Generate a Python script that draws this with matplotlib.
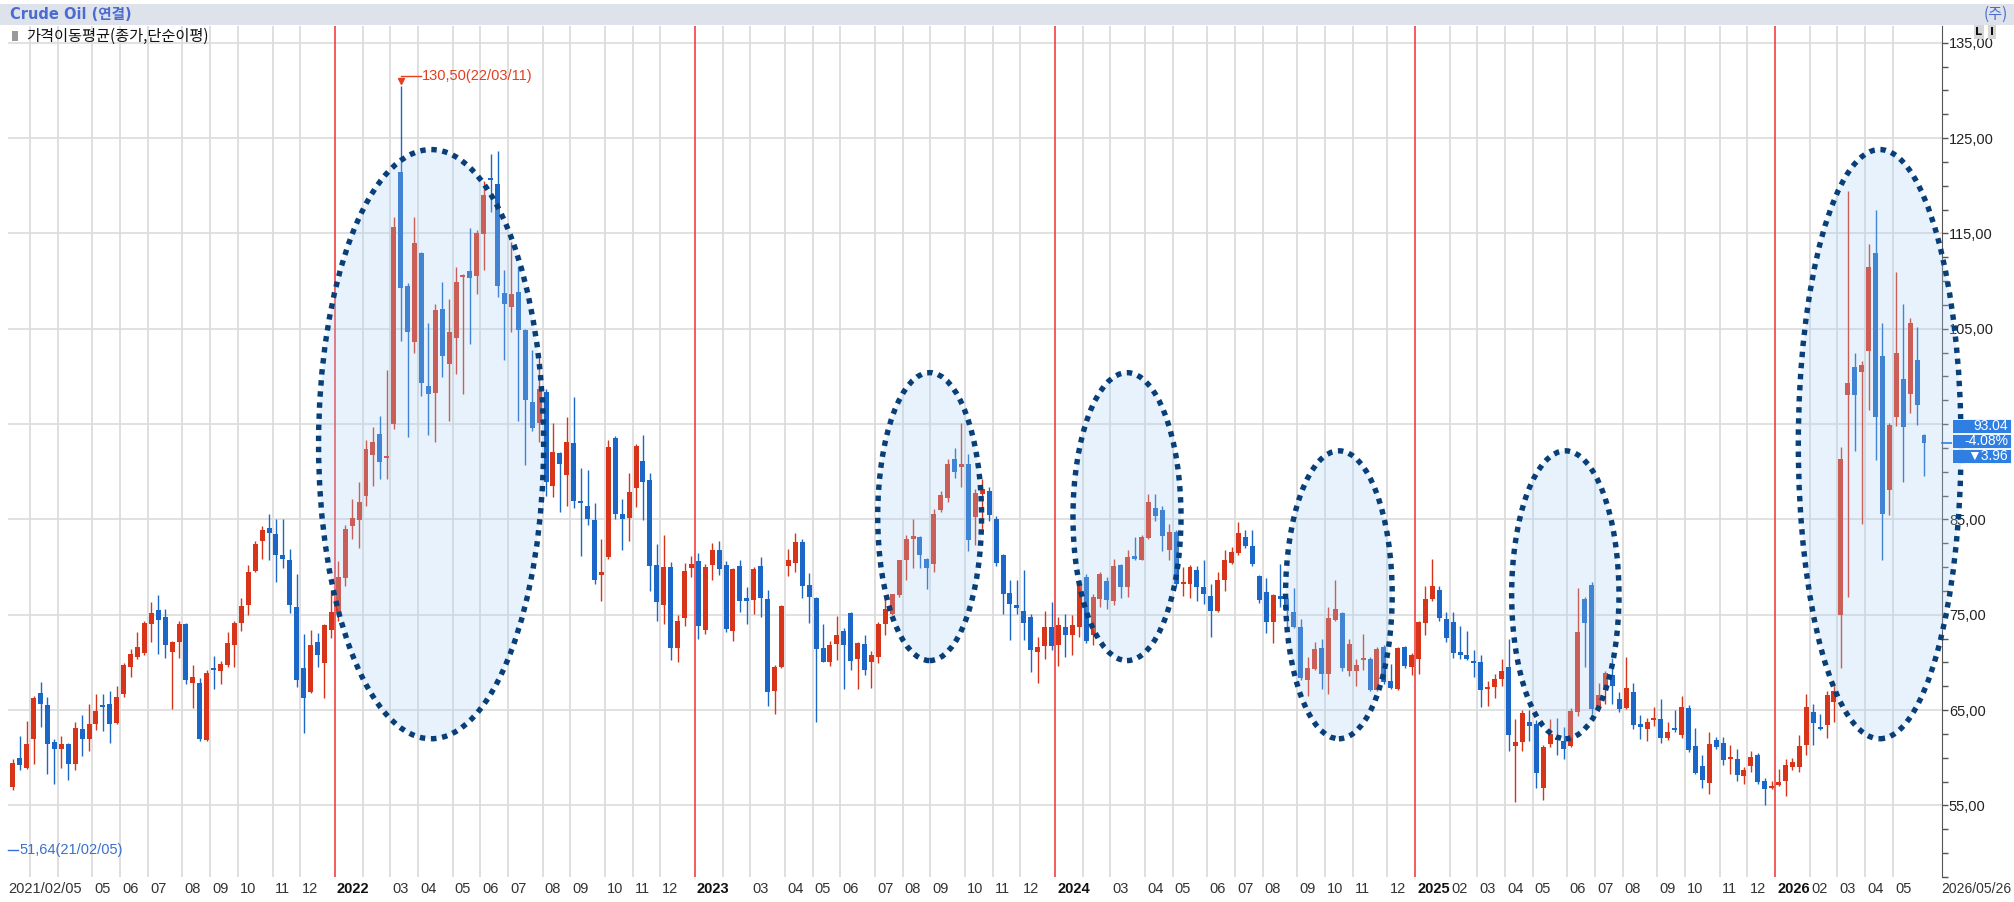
import matplotlib
matplotlib.use("Agg")
import matplotlib.pyplot as plt
from matplotlib.patches import Ellipse, Rectangle
import numpy as np
import pandas as pd

W, H = 2014, 902
up_col = "#d8341a"
down_col = "#1a67c7"
grid_col = "#dcdcdc"
num_font = ["Liberation Sans Narrow", "Liberation Sans", "DejaVu Sans"]
kr_font = ["Noto Sans CJK KR", "DejaVu Sans"]

# weekly candles, Friday dates; last one is the running week
dates = list(pd.date_range("2021-02-05", periods=277, freq="7D")) + [pd.Timestamp("2026-05-26")]

opens = [
    52.2, 56.9, 60.0, 58.9, 62.0, 66.8, 65.5, 61.7, 60.9, 61.5,
    59.3, 63.0, 62.0, 63.5, 65.5, 65.6, 63.7, 66.7, 69.5, 70.6,
    71.0, 74.0, 75.5, 74.8, 71.1, 72.2, 74.0, 67.8, 67.8, 61.9,
    69.4, 69.1, 69.7, 71.8, 74.1, 76.0, 79.6, 82.7, 84.1, 83.5,
    81.3, 80.8, 75.8, 69.4, 66.9, 72.2, 69.9, 73.4, 75.3, 78.9,
    84.3, 84.9, 87.5, 91.8, 94.0, 91.4, 95.0, 121.4, 109.5, 103.6,
    113.0, 99.0, 98.3, 107.1, 101.3, 104.0, 110.4, 111.1, 110.5, 114.9,
    120.8, 120.2, 108.8, 107.3, 108.9, 104.9, 97.3, 95.1, 98.4, 88.5,
    92.0, 89.7, 93.0, 86.9, 86.4, 84.9, 79.2, 81.1, 93.5, 85.6,
    85.2, 88.3, 91.1, 89.1, 80.2, 76.0, 80.0, 71.5, 74.7, 79.9,
    80.6, 73.4, 80.2, 81.8, 80.2, 73.3, 80.1, 76.8, 76.6, 80.1,
    76.7, 67.0, 69.5, 80.1, 80.4, 82.6, 78.1, 76.8, 71.5, 70.1,
    71.9, 73.3, 75.2, 70.4, 71.9, 70.0, 70.6, 74.0, 75.1, 77.1,
    80.7, 82.9, 83.2, 80.9, 80.3, 86.0, 87.3, 91.3, 90.5, 90.8,
    85.3, 87.7, 88.0, 85.0, 81.3, 77.3, 76.0, 75.4, 74.8, 71.1,
    71.7, 73.7, 71.8, 73.7, 72.9, 73.7, 79.0, 72.9, 76.7, 78.5,
    76.5, 80.2, 77.9, 81.1, 80.8, 83.1, 86.2, 86.0, 81.8, 83.7,
    78.2, 78.2, 79.7, 77.9, 77.0, 75.4, 78.6, 80.4, 81.5, 83.2,
    82.2, 79.1, 77.4, 74.2, 77.0, 76.7, 75.3, 73.7, 68.2, 69.3,
    71.5, 68.8, 74.5, 75.2, 69.1, 69.1, 70.3, 70.4, 67.1, 71.6,
    68.1, 67.2, 71.6, 69.5, 70.4, 74.1, 76.7, 77.6, 74.6, 74.2,
    71.1, 70.8, 70.0, 70.0, 67.2, 67.4, 68.3, 69.5, 61.2, 61.7,
    63.8, 63.5, 56.8, 61.5, 62.1, 61.8, 61.2, 64.8, 76.7, 78.1,
    65.3, 67.1, 68.7, 66.2, 65.2, 66.9, 63.5, 63.0, 64.0, 64.1,
    62.1, 63.1, 62.4, 65.2, 61.2, 59.1, 57.4, 61.9, 61.6, 59.9,
    59.9, 58.1, 59.1, 60.3, 57.6, 56.8, 57.2, 57.6, 59.0, 59.0,
    61.3, 64.8, 63.1, 63.4, 65.9, 75.0, 98.1, 101.0, 100.5, 102.7,
    112.9, 102.1, 88.1, 95.7, 99.7, 98.2, 101.7, 93.9,
]
highs = [
    57.5, 59.9, 62.3, 63.9, 66.5, 68.0, 66.4, 62.0, 62.3, 61.6,
    63.8, 64.5, 65.6, 66.7, 66.7, 67.0, 67.5, 69.9, 71.4, 73.2,
    74.3, 76.3, 77.1, 75.6, 72.3, 74.3, 74.1, 69.7, 68.4, 69.2,
    70.7, 70.2, 73.2, 74.3, 76.8, 80.2, 82.7, 84.3, 85.6, 85.0,
    85.0, 81.9, 79.3, 73.0, 73.4, 73.1, 74.0, 77.5, 80.6, 84.4,
    87.2, 88.9, 93.3, 94.7, 95.9, 100.7, 116.7, 130.5, 109.8, 116.7,
    113.1, 105.6, 107.6, 109.9, 108.1, 111.5, 110.8, 115.6, 115.4, 120.5,
    123.3, 123.7, 111.2, 114.1, 111.5, 105.0, 102.8, 102.1, 98.7, 95.1,
    92.1, 95.8, 97.8, 90.4, 90.2, 86.7, 83.0, 93.3, 93.8, 87.2,
    89.9, 92.9, 93.9, 89.9, 82.4, 83.4, 80.5, 75.0, 80.4, 81.2,
    81.5, 80.3, 82.5, 82.7, 80.6, 79.9, 80.7, 77.9, 80.0, 81.1,
    77.6, 69.7, 76.0, 81.9, 83.6, 82.9, 79.4, 76.9, 74.0, 72.3,
    74.9, 73.6, 75.3, 72.1, 72.9, 71.2, 74.2, 77.0, 77.2, 80.8,
    83.4, 85.0, 83.3, 81.0, 86.1, 88.0, 91.3, 92.5, 95.1, 91.9,
    88.2, 89.2, 88.4, 85.4, 81.4, 78.7, 78.7, 79.7, 75.1, 72.7,
    75.4, 76.3, 74.8, 75.1, 75.0, 78.6, 79.3, 77.2, 79.5, 79.0,
    80.9, 80.3, 81.8, 83.2, 83.4, 87.7, 87.7, 86.4, 84.5, 83.9,
    80.0, 80.2, 80.1, 80.7, 78.2, 79.5, 81.8, 82.1, 84.7, 83.9,
    83.9, 79.2, 78.9, 77.2, 80.3, 77.0, 77.8, 74.6, 70.6, 72.2,
    72.5, 75.8, 78.7, 75.3, 72.5, 70.4, 73.0, 70.6, 71.6, 71.8,
    69.8, 71.6, 71.7, 71.0, 74.4, 78.0, 80.9, 78.0, 75.3, 75.3,
    73.8, 73.3, 71.3, 70.8, 68.1, 68.8, 70.4, 72.5, 64.1, 65.0,
    65.0, 64.0, 61.3, 64.1, 64.2, 63.2, 65.2, 77.8, 76.9, 78.4,
    67.9, 69.1, 70.5, 66.9, 70.6, 67.9, 64.5, 64.2, 65.3, 66.2,
    63.8, 65.0, 66.5, 65.5, 63.1, 60.3, 62.7, 62.2, 62.2, 61.3,
    60.9, 59.0, 60.7, 60.5, 57.9, 57.6, 58.8, 59.9, 60.0, 62.4,
    66.7, 65.6, 64.6, 67.0, 67.7, 92.6, 119.5, 102.5, 101.6, 113.9,
    117.5, 105.6, 95.1, 111.0, 107.6, 106.1, 105.2, 94.0,
]
lows = [
    51.64, 56.6, 58.7, 58.8, 59.3, 63.2, 58.3, 57.3, 58.9, 57.7,
    58.7, 60.2, 60.7, 62.9, 62.8, 61.6, 63.5, 66.4, 68.5, 70.4,
    70.8, 72.1, 70.9, 70.5, 65.1, 70.5, 67.7, 65.2, 61.8, 61.8,
    67.2, 67.7, 69.5, 69.5, 73.3, 75.0, 79.5, 80.9, 80.8, 78.4,
    79.9, 75.2, 67.4, 62.6, 66.8, 69.5, 66.3, 72.6, 74.3, 78.0,
    82.9, 82.0, 86.4, 88.5, 89.2, 89.2, 94.5, 103.7, 93.7, 102.5,
    97.9, 93.9, 93.1, 99.9, 95.3, 100.3, 98.2, 103.4, 108.7, 111.2,
    117.2, 108.3, 101.7, 104.7, 95.3, 90.7, 94.3, 93.1, 87.5, 87.4,
    85.8, 86.4, 86.2, 81.2, 84.4, 78.2, 76.4, 80.9, 85.1, 81.8,
    82.7, 86.3, 84.9, 77.5, 74.4, 74.0, 70.3, 70.1, 73.8, 79.0,
    72.5, 73.0, 78.7, 79.2, 73.2, 72.3, 75.3, 74.0, 75.1, 74.8,
    65.4, 64.6, 69.4, 79.1, 79.5, 76.8, 74.1, 63.8, 70.0, 69.6,
    70.3, 67.2, 69.2, 67.2, 68.7, 67.3, 69.9, 72.9, 75.0, 76.9,
    78.7, 79.9, 79.9, 77.7, 79.5, 85.8, 86.8, 89.3, 88.4, 81.7,
    82.3, 84.0, 84.8, 80.1, 75.1, 72.4, 75.1, 72.4, 69.0, 67.9,
    70.4, 71.3, 69.6, 70.6, 70.8, 72.7, 72.0, 71.8, 75.8, 75.6,
    76.0, 76.8, 76.9, 80.7, 80.7, 83.0, 84.8, 81.7, 80.8, 78.0,
    77.0, 76.8, 76.4, 76.1, 72.7, 75.3, 77.5, 80.3, 81.3, 82.0,
    80.1, 76.2, 73.1, 72.0, 75.8, 73.5, 73.6, 68.2, 66.5, 69.2,
    67.2, 66.7, 74.4, 69.1, 68.6, 67.5, 69.2, 67.0, 67.0, 67.7,
    67.2, 67.1, 69.4, 68.7, 68.8, 72.9, 76.4, 74.3, 72.1, 70.5,
    70.4, 70.3, 68.5, 65.3, 65.4, 66.3, 67.5, 60.7, 55.4, 60.7,
    61.8, 56.8, 55.6, 61.1, 60.3, 59.9, 61.1, 64.4, 69.5, 64.6,
    65.1, 65.6, 65.6, 64.8, 65.1, 63.0, 62.0, 61.8, 63.3, 61.6,
    61.9, 62.7, 62.1, 60.6, 58.3, 56.8, 56.2, 60.9, 59.2, 58.3,
    57.6, 57.3, 58.5, 57.3, 55.1, 56.7, 57.0, 56.0, 58.7, 58.5,
    60.3, 61.3, 62.9, 62.1, 63.8, 69.4, 76.9, 92.2, 84.5, 96.5,
    91.2, 80.7, 85.5, 94.8, 88.9, 96.2, 94.9, 89.6,
]
closes = [
    56.9, 59.5, 59.2, 61.5, 66.3, 65.6, 61.4, 60.9, 61.4, 59.3,
    63.1, 62.0, 63.6, 64.9, 65.3, 63.5, 66.4, 69.7, 70.9, 71.6,
    74.1, 75.2, 74.5, 71.8, 72.2, 74.0, 68.2, 68.5, 62.0, 68.9,
    69.2, 69.8, 72.0, 74.1, 75.9, 79.5, 82.4, 83.9, 83.6, 81.3,
    80.9, 76.0, 68.2, 66.3, 71.8, 70.8, 73.9, 75.3, 79.0, 84.0,
    85.2, 86.8, 92.4, 93.1, 91.0, 91.7, 115.7, 109.3, 104.7, 114.0,
    99.3, 98.2, 107.0, 102.1, 104.7, 109.9, 110.6, 110.3, 115.1, 119.0,
    120.6, 109.5, 107.6, 108.6, 104.9, 97.5, 94.6, 98.7, 88.9, 92.1,
    90.8, 93.1, 86.9, 86.7, 85.0, 78.7, 79.5, 92.6, 85.6, 85.0,
    87.9, 92.7, 88.9, 80.1, 76.3, 80.0, 71.5, 74.4, 79.6, 80.3,
    73.8, 80.0, 81.8, 79.8, 73.5, 79.8, 76.4, 76.4, 79.8, 76.8,
    66.9, 69.5, 75.9, 80.8, 82.6, 78.0, 76.9, 71.4, 70.1, 71.8,
    72.9, 71.8, 70.2, 72.0, 69.2, 70.8, 74.0, 75.6, 77.2, 80.7,
    82.9, 83.3, 81.3, 79.9, 85.6, 87.6, 90.8, 90.0, 90.8, 82.8,
    87.8, 88.2, 85.5, 80.4, 77.2, 76.1, 75.7, 74.1, 71.3, 71.6,
    73.7, 71.7, 73.9, 72.9, 73.9, 78.2, 72.3, 76.9, 79.3, 76.6,
    80.1, 77.9, 81.1, 80.9, 83.2, 86.8, 85.4, 83.3, 83.7, 78.2,
    78.4, 80.0, 77.9, 77.2, 75.4, 78.6, 80.7, 81.6, 83.6, 82.2,
    80.3, 76.6, 74.2, 77.1, 76.7, 75.4, 73.7, 68.4, 69.4, 71.4,
    68.8, 74.7, 75.6, 69.4, 71.9, 69.7, 70.5, 67.1, 71.4, 68.0,
    67.3, 71.5, 69.6, 70.8, 74.2, 76.7, 78.0, 74.7, 72.6, 71.0,
    70.8, 70.4, 69.9, 67.1, 67.3, 68.3, 69.1, 62.4, 61.7, 64.7,
    63.3, 58.4, 61.1, 62.5, 61.9, 60.9, 64.9, 73.2, 74.1, 65.1,
    66.6, 68.9, 67.5, 65.1, 67.3, 63.4, 63.2, 63.8, 64.2, 62.1,
    62.7, 62.9, 65.3, 60.8, 58.4, 57.7, 61.5, 61.1, 59.8, 60.1,
    58.2, 58.7, 60.1, 57.5, 56.7, 57.0, 57.4, 59.2, 59.6, 61.2,
    65.3, 63.7, 63.0, 66.6, 67.0, 91.3, 99.3, 98.1, 101.2, 111.5,
    95.7, 85.6, 94.9, 102.5, 94.7, 105.6, 97.0, 93.04,
]

# highlighted zones: (centre week, centre price, width in weeks, height in price)
zones = [(61.4, 92.9, 32.5, 61.8), (133.4, 85.3, 15.0, 30.2), (161.9, 85.3, 15.6, 30.2),
         (192.5, 77.1, 15.4, 30.2), (225.2, 77.1, 15.5, 30.2), (270.6, 92.9, 23.5, 61.8)]

last_txt = ["93.04", "-4.08%", "\u25bc3.96"]

fig = plt.figure(figsize=(W / 100, H / 100), dpi=100)


def fx(px):
    return px / W


def fy(py):
    return 1 - py / H


# header bar
fig.patches.append(Rectangle((0, fy(25)), 1, fy(4) - fy(25), transform=fig.transFigure,
                             facecolor="#dee3eb", edgecolor="none"))
fig.text(fx(10), fy(14.5), "Crude Oil (연결)", color="#4b6bd1", fontsize=10.5, fontweight="bold",
         va="center", family=["DejaVu Sans", "Noto Sans CJK KR"])
fig.text(fx(1984), fy(14.5), "(주)", color="#4b6bd1", fontsize=11, va="center", family=kr_font)

ax = fig.add_axes([fx(8), fy(877), fx(1942) - fx(8), fy(26) - fy(877)])
ax.set_xlim(0.3, 279.6)
ax.set_ylim(47.83, 136.76)

x = np.arange(len(closes))
o = np.array(opens)
c = np.array(closes)
hi = np.array(highs)
lo = np.array(lows)
cols = np.where(c >= o, up_col, down_col)

# month grid and year separators
labels = []
for i in range(1, len(dates)):
    if dates[i].month != dates[i - 1].month:
        if dates[i].month == 1:
            ax.axvline(i - 0.5, color="#f03030", lw=1.1, zorder=2)
            labels.append((i - 0.5, str(dates[i].year), True))
        else:
            ax.axvline(i - 0.5, color=grid_col, lw=1.3, zorder=1)
            labels.append((i - 0.5, f"{dates[i].month:02d}", False))

ax.vlines(x, lo, hi, colors=cols, lw=1.0, zorder=3)
ax.bar(x, np.maximum(np.abs(c - o), 0.22), bottom=np.minimum(o, c), width=0.72,
       color=cols, linewidth=0, zorder=3)

for cx, cy, w, h in zones:
    ax.add_patch(Ellipse((cx, cy), w, h, facecolor="#a9d1f7", alpha=0.28, edgecolor="none",
                         zorder=4, clip_on=False))
    ax.add_patch(Ellipse((cx, cy), w, h, fill=False, edgecolor="#083f78", lw=3.9,
                         linestyle=(0, (1.0, 1.05)), zorder=5, clip_on=False))

# y axis on the right with comma decimals; 95 sits under the last-value boxes
ax.yaxis.tick_right()
yt = np.arange(55, 136, 10)
ax.set_yticks(yt)
ax.set_yticklabels(["" if v == 95 else f"{v:.2f}".replace(".", ",") for v in yt],
                   family=num_font, fontsize=10.5)
ax.set_yticks(np.arange(47.5, 137, 2.5), minor=True)
ax.tick_params(axis="y", which="both", direction="out", length=4, width=1, color="#555",
               labelcolor="#222", pad=1)
ax.tick_params(axis="x", length=0, labelbottom=False)
ax.grid(axis="y", which="major", color=grid_col, lw=1.2, zorder=1)
ax.set_axisbelow(True)
for s in ["top", "left", "bottom"]:
    ax.spines[s].set_visible(False)
ax.spines["right"].set_color("#555")


# x labels, skipping the ones that would collide
def px_of(v):
    return 5.4 + 6.926 * v


trans = ax.get_xaxis_transform()
ax.text(0.3, -0.0145, dates[0].strftime("%Y/%m/%d"), transform=trans, fontsize=10.5,
        family=num_font, color="#333", va="center", ha="left", clip_on=False)
last_end = 6 + 66
for pos, txt, is_year in labels:
    start = px_of(pos) + 2
    if start < last_end + 3:
        continue
    ax.text(pos + 0.3, -0.0145, txt, transform=trans, fontsize=10.5, family=num_font,
            color="#111" if is_year else "#333", fontweight="bold" if is_year else "normal",
            va="center", ha="left", clip_on=False)
    last_end = start + (30 if is_year else 14)
fig.text(fx(2011), fy(889), dates[-1].strftime("%Y/%m/%d"), fontsize=10, family=num_font,
         color="#333", va="center", ha="right")

# max / min annotations
imax = int(np.argmax(hi))
imin = int(np.argmin(lo))
ax.plot(imax, hi[imax] + 0.5, marker="v", ms=5, color="#e2401f", zorder=6, clip_on=False)
ax.plot([imax, imax + 3.0], [hi[imax] + 1.0, hi[imax] + 1.0], color="#e2401f", lw=1, zorder=6)
ax.text(imax + 3.1, hi[imax] + 1.0, f"{hi[imax]:.2f}".replace(".", ",") + dates[imax].strftime("(%y/%m/%d)"),
        color="#e2401f", fontsize=10.5, family=num_font, va="center", ha="left", zorder=6)
ax.plot([0.3, 1.8], [lo[imin] - 1.35, lo[imin] - 1.35], color="#3a70d0", lw=1, zorder=6,
        clip_on=False)
ax.text(1.9, lo[imin] - 1.35, f"{lo[imin]:.2f}".replace(".", ",") + dates[imin].strftime("(%y/%m/%d)"),
        color="#3a70d0", fontsize=10.5, family=num_font, va="center", ha="left", zorder=6)

# legend line
fig.patches.append(Rectangle((fx(12), fy(41)), fx(6), fy(31) - fy(41), transform=fig.transFigure,
                             facecolor="#9a9a9a", edgecolor="none"))
fig.text(fx(26), fy(36), "가격이동평균(종가,단순이평)", fontsize=11, color="#111", va="center",
         family=kr_font)

# small buttons top right
for bx, t in [(1979, "L"), (1992, "I")]:
    fig.text(fx(bx), fy(32), t, fontsize=8, fontweight="bold", color="#111", va="center", ha="center",
             bbox=dict(boxstyle="square,pad=0.15", facecolor="#d6d6d6", edgecolor="none"))

# last value boxes
ax.plot([279.6, 281.0], [c[-1], c[-1]], color="#2f7fe3", lw=1.2, clip_on=False, zorder=6)
for k, t in enumerate(last_txt):
    yc = 426 + 15 * k
    fig.patches.append(Rectangle((fx(1952), fy(yc + 7)), fx(2011) - fx(1952), fy(yc - 7) - fy(yc + 7),
                                 transform=fig.transFigure, facecolor="#2f7fe3", edgecolor="white",
                                 lw=0.6, zorder=5))
    fig.text(fx(2008), fy(yc), t, fontsize=10, family=num_font, color="white",
             va="center", ha="right", zorder=6)

fig.savefig("out.png", dpi=100)
